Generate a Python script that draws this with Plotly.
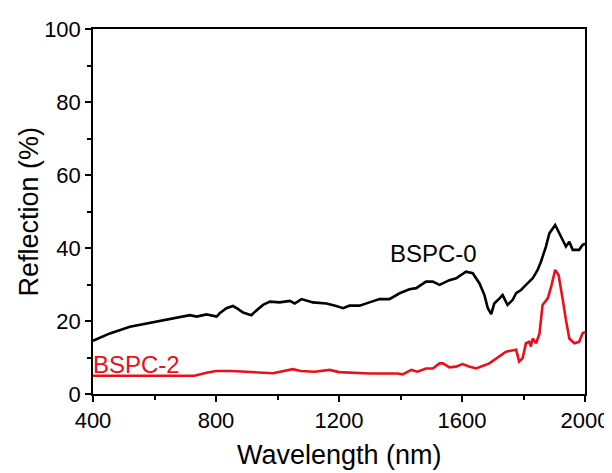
import plotly.graph_objects as go

# BSPC-0 (black)
wl0 = [400, 455, 520, 585, 650, 715, 737, 769, 802, 812, 834, 855, 870, 888, 915, 926, 953, 975,
       1007, 1040, 1056, 1078, 1115, 1159, 1191, 1213, 1234, 1267, 1299, 1332, 1364, 1397, 1429,
       1451, 1483, 1505, 1527, 1559, 1581, 1613, 1635, 1657, 1673, 1684, 1695, 1705, 1722, 1732,
       1748, 1765, 1776, 1792, 1808, 1830, 1846, 1857, 1873, 1884, 1903, 1916, 1927, 1938, 1949,
       1960, 1981, 1992, 2000]
r0 = [14.6, 16.6, 18.4, 19.5, 20.5, 21.6, 21.2, 21.8, 21.2, 22.1, 23.5, 24.1, 23.4, 22.3, 21.6,
      22.5, 24.4, 25.3, 25.1, 25.5, 24.8, 26.0, 25.1, 24.8, 24.1, 23.5, 24.2, 24.2, 25.1, 26.0,
      26.0, 27.6, 28.7, 29.0, 30.8, 30.8, 29.9, 31.2, 31.7, 33.5, 33.1, 30.3, 27.1, 23.5, 21.9,
      24.8, 26.2, 27.1, 24.4, 25.8, 27.6, 28.5, 29.9, 31.7, 34.0, 36.3, 40.4, 44.0, 46.3, 44.0,
      42.2, 40.4, 41.7, 39.5, 39.5, 40.8, 41.2]

# BSPC-2 (red)
wl2 = [400, 730, 769, 800, 850, 920, 985, 1050, 1075, 1120, 1170, 1200, 1300, 1390, 1407, 1435,
       1455, 1483, 1505, 1527, 1538, 1559, 1580, 1602, 1620, 1646, 1689, 1743, 1776, 1786, 1797,
       1808, 1819, 1824, 1830, 1841, 1852, 1862, 1879, 1890, 1903, 1914, 1922, 1927, 1938, 1949,
       1965, 1981, 1992, 2000]
r2 = [5.0, 5.0, 5.8, 6.3, 6.3, 6.0, 5.7, 6.8, 6.3, 6.1, 6.6, 6.0, 5.6, 5.6, 5.4, 6.6, 6.1, 7.0,
      7.0, 8.4, 8.4, 7.3, 7.5, 8.2, 7.6, 7.0, 8.4, 11.6, 12.1, 8.9, 9.8, 13.9, 14.3, 13.0, 15.2,
      13.9, 16.6, 24.4, 26.2, 29.4, 34.0, 32.6, 29.0, 26.2, 20.3, 15.2, 13.9, 14.3, 16.6, 17.0]

x_ticks = [400, 800, 1200, 1600, 2000]
y_ticks = [0, 20, 40, 60, 80, 100]

font_family = "Liberation Sans, Arial, sans-serif"

fig = go.Figure()
fig.add_trace(go.Scatter(x=wl0, y=r0, mode="lines", line=dict(color="black", width=2.6),
                         name="BSPC-0", showlegend=False))
fig.add_trace(go.Scatter(x=wl2, y=r2, mode="lines", line=dict(color="#e8101a", width=2.6),
                         name="BSPC-2", showlegend=False))

fig.add_annotation(x=1507, y=38.4, text="BSPC-0", showarrow=False,
                   font=dict(family=font_family, size=24, color="black"),
                   xanchor="center", yanchor="middle")
fig.add_annotation(x=543, y=8.0, text="BSPC-2", showarrow=False,
                   font=dict(family=font_family, size=24, color="#e8101a"),
                   xanchor="center", yanchor="middle")

# axis titles as paper-positioned annotations
fig.add_annotation(xref="paper", yref="paper", x=0.5, y=-0.167, text="Wavelength (nm)",
                   showarrow=False, font=dict(family=font_family, size=27, color="black"),
                   xanchor="center", yanchor="middle")
fig.add_annotation(xref="paper", yref="paper", x=-0.132, y=0.5, text="Reflection (%)",
                   showarrow=False, textangle=-90,
                   font=dict(family=font_family, size=27, color="black"),
                   xanchor="center", yanchor="middle")

axis_common = dict(showgrid=False, zeroline=False, showline=True, linecolor="black", linewidth=1.5,
                   mirror=True, ticks="outside", ticklen=6, tickwidth=1.5, tickcolor="black",
                   automargin=False,
                   tickfont=dict(family=font_family, size=22, color="black"))

fig.update_xaxes(range=[400, 2000], tickvals=x_ticks, ticktext=[str(v) for v in x_ticks],
                 minor=dict(ticks="outside", ticklen=4, tickwidth=1.5, tickcolor="black", dtick=200,
                            tick0=400),
                 **axis_common)
fig.update_yaxes(range=[0, 100], tickvals=y_ticks, ticktext=[str(v) for v in y_ticks],
                 minor=dict(ticks="outside", ticklen=4, tickwidth=1.5, tickcolor="black", dtick=10,
                            tick0=0),
                 **axis_common)

fig.update_layout(width=604, height=465, margin=dict(l=85, r=27, t=21, b=79),
                  paper_bgcolor="white", plot_bgcolor="white")

fig.write_html("out.html")
